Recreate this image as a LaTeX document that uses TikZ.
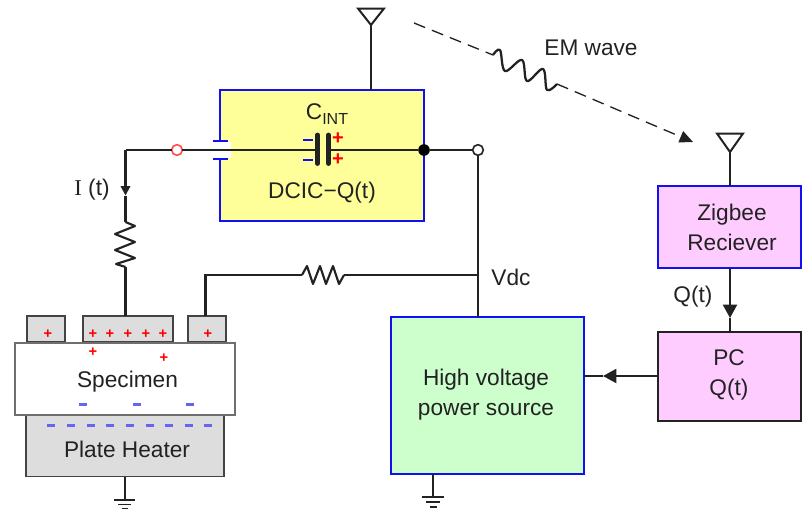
\documentclass[tikz,border=0pt]{standalone}
\usepackage{fontspec}
\setmainfont{Liberation Sans}
\newfontfamily\iserif{Liberation Serif}
\usetikzlibrary{arrows.meta,calc}
\definecolor{ink}{HTML}{222222}
\definecolor{bbl}{HTML}{1010F0}
\definecolor{yel}{HTML}{FFFF99}
\definecolor{pnk}{HTML}{FFCCFF}
\definecolor{grn}{HTML}{CCFFCC}
\definecolor{gry}{HTML}{DDDDDD}
\definecolor{chg}{HTML}{6464F5}
\tikzset{
  wire/.style={draw=ink,line width=1.6pt},
  bluebox/.style={draw=bbl,line width=1.9pt,inner sep=0pt,outer sep=0pt,rectangle},
  blackbox/.style={draw=ink,line width=1.9pt,inner sep=0pt,outer sep=0pt,rectangle},
  graybox/.style={draw=ink!85,fill=gry,line width=1.4pt,inner sep=0pt,outer sep=0pt,rectangle},
  whitebox/.style={draw=ink!65,fill=white,line width=1.7pt,inner sep=0pt,outer sep=0pt,rectangle},
  lbl/.style={font=\fontsize{17pt}{22.5pt}\selectfont,text=ink,inner sep=0pt,align=center},
  plusm/.style={font=\fontsize{11pt}{11pt}\selectfont\bfseries,text=red,inner sep=0pt},
  plusb/.style={font=\fontsize{15pt}{15pt}\selectfont\bfseries,text=red,inner sep=0pt},
  minusm/.style={draw=chg,fill=chg,inner sep=0pt,minimum width=5.5pt,minimum height=1.8pt,rectangle},
  minussm/.style={draw=chg,fill=chg,inner sep=0pt,minimum width=5pt,minimum height=1.2pt,rectangle},
  opend/.style={circle,fill=white,line width=1.2pt,minimum size=8pt,inner sep=0pt,outer sep=0pt},
  arrbig/.style={-{Triangle[length=10pt,width=10.5pt]}},
  arrsmall/.style={-{Triangle[length=7pt,width=7pt]}},
  emline/.style={draw=ink,line width=1pt,dash pattern=on 9pt off 5.5pt}
}
\begin{document}
\begin{tikzpicture}[x=0.75pt,y=-0.75pt]
\useasboundingbox (0,0) rectangle (808,515);
% boxes
\node[bluebox,fill=yel,minimum width=153pt,minimum height=98.25pt] (dcic) at (322,155.5) {};
\node[bluebox,fill=pnk,minimum width=107.25pt,minimum height=61.5pt] (zig) at (729.5,227) {};
\node[blackbox,fill=pnk,minimum width=107.25pt,minimum height=66.75pt] (pc) at (729.5,376.5) {};
\node[bluebox,fill=grn,minimum width=144.75pt,minimum height=117.75pt] (hv) at (487.5,395.5) {};
\node[graybox,minimum width=148.5pt,minimum height=45.75pt] (heat) at (125,446) {};
\node[graybox,minimum width=28.5pt,minimum height=19.5pt] (el1) at (46,329) {};
\node[graybox,minimum width=67.5pt,minimum height=19.5pt] (el2) at (128,329) {};
\node[graybox,minimum width=28.5pt,minimum height=19.5pt] (el3) at (207,329) {};
\node[whitebox,minimum width=165pt,minimum height=54pt] (spec) at (125,379) {};
% gap in the left wall
\fill[white] (213,141.8) rectangle (230.5,158.2);
\draw[bbl,line width=1.6pt] (213,141) -- (228,141) (213,159) -- (228,159);
% coordinates
\coordinate (antA) at (371,25);
\coordinate (antB) at (730,152);
\coordinate (capL) at (317.5,150);
\coordinate (capR) at (328.5,150);
\coordinate (corner) at (125.5,150);
\coordinate (r1t) at (125.5,222);
\coordinate (r1b) at (125.5,267);
\coordinate (r2l) at (302,275);
\coordinate (r2r) at (344,275);
\coordinate (bend) at (205.5,275);
\coordinate (tee) at (478,275);
\coordinate (iarrow) at (125.5,195.5);
\coordinate (qarrow) at (730,318);
\coordinate (pcarrow) at (603,376);
\node[opend,draw=red!70!white] (ored) at (177,150) {};
\node[circle,fill=black,minimum size=8.7pt,inner sep=0pt] (jun) at (424,150) {};
\node[opend,draw=ink] (oblk) at (478,150) {};
% antennas
\draw[line width=1.5pt,ink,line join=miter] (358,8.5) -- (384,8.5) -- (antA) -- cycle;
\draw[line width=1.5pt,ink,line join=miter] (717,133.5) -- (743,133.5) -- (antB) -- cycle;
\draw[wire] (antA) -- (dcic.north -| antA);
\draw[wire] (antB) -- (zig.north -| antB);
% wires
\draw[wire] (corner) -- (ored.west);
\draw[wire,line width=1.2pt] (ored.east) -- (capL);
\draw[wire,line width=1.2pt] (capR) -- (jun);
\draw[wire] (jun) -- (oblk.west);
\draw[wire] (oblk.south) -- (hv.north -| oblk);
\draw[wire,arrsmall] (corner) -- (iarrow);
\draw[wire] (iarrow) -- (r1t);
\draw[wire,line join=round] plot coordinates {(125.5,222) (135,226) (115,234) (135,242) (115,250) (135,258) (116,264) (125.5,267)};
\draw[wire] (r1b) -- (el2.north -| r1b);
\draw[wire] (el3.north -| bend) -- (bend) -- (r2l);
\draw[wire,line join=round] plot coordinates {(302,275) (307,266) (313,284) (320,266) (326,284) (333,266) (339,284) (344,275)};
\draw[wire] (r2r) -- (tee);
% capacitor
\draw[ink,line width=3.6pt,line cap=round] (317.5,135) -- (317.5,163.5);
\draw[ink,line width=3.6pt,line cap=round] (328.5,135) -- (328.5,163.5);
\draw[bbl,line width=1.5pt] (303,140) -- (313,140) (303,160) -- (313,160);
\node[plusb] at (338,139) {+};
\node[plusb] at (338,160) {+};
% arrows
\draw[wire,arrbig] (zig.south -| qarrow) -- (qarrow);
\draw[wire] (qarrow) -- (pc.north -| qarrow);
\draw[wire,arrbig] (pc.west |- pcarrow) -- (pcarrow);
\draw[wire] (pcarrow) -- (hv.east |- pcarrow);
% em wave
\coordinate (w0) at (493,55);
\coordinate (w1) at (557,84);
\coordinate (emS) at (414,23);
\coordinate (emE) at (693,142);
\draw[emline] (emS) -- (w0);
\draw[ink,line width=1.7pt,line join=round] plot[smooth,tension=0.6] coordinates {(493,55) (500,50) (505,71) (522,60) (527,81) (543,69) (547,90) (557,84)};
\draw[emline,-{Triangle[length=10pt,width=9pt]}] (w1) -- (emE);
% ground
\draw[wire] (heat.south) -- (125,500);
\draw[ink,line width=1.4pt] (114,500) -- (135,500) (118,504.5) -- (131,504.5) (122,508.5) -- (128,508.5);
\draw[wire] (hv.south -| 433,0) -- (433,497);
\draw[ink,line width=1.4pt] (422,497) -- (444,497) (426,502) -- (440,502) (430,507) -- (437,507);
% labels
\node[lbl] at (327,114) {C\raisebox{-0.35ex}{\fontsize{12pt}{12pt}\selectfont INT}};
\node[lbl] at (322,193) {DCIC\textminus Q(t)};
\node[lbl] at (591,48) {EM wave};
\node[lbl] at (92,190) {{\iserif I} (t)};
\node[lbl] at (511,277) {Vdc};
\node[lbl] at (693,297) {Q(t)};
\node[lbl] at (127.5,382) {Specimen};
\node[lbl] at (127,449) {Plate Heater};
\node[lbl] at (486,395) {High voltage\\power source};
\node[lbl] at (732,227) {Zigbee\\Reciever};
\node[lbl] at (729,375) {PC\\Q(t)};
% charges
\foreach \x in {48,93,110,128,146,163,208} \node[plusm] at (\x,334) {+};
\node[plusm] at (93,352) {+};
\node[plusm] at (164,358) {+};
\foreach \x in {83,137,190} \node[minussm] at (\x,404.5) {};
\foreach \x in {51,71,91,110,130,150,169,189,208} \node[minusm] at (\x,425) {};
\end{tikzpicture}
\end{document}
